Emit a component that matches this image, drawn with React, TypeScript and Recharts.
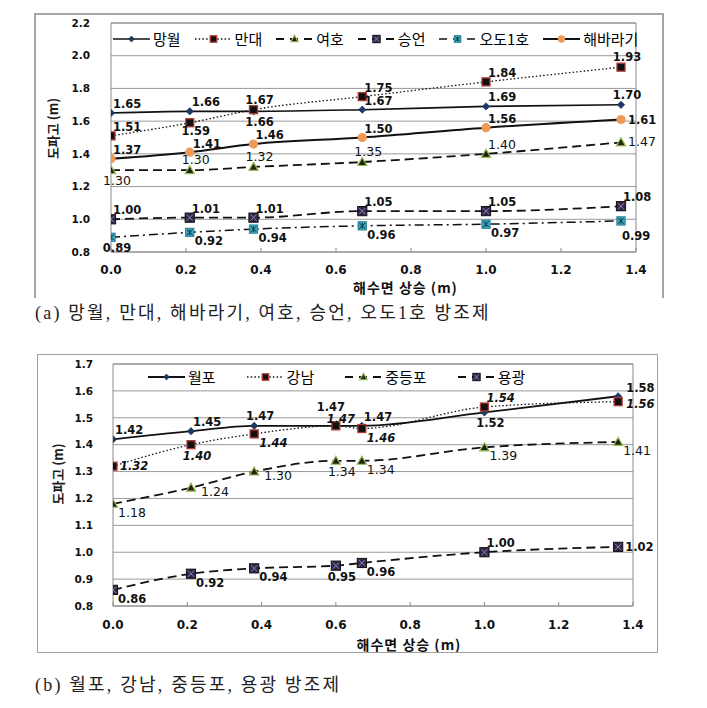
import React from 'react';
import { LineChart, Line, XAxis, YAxis, CartesianGrid, ReferenceArea, LabelList, Label } from 'recharts';

// ---------- data: panel (a) ----------
const xA = [0, 0.21, 0.38, 0.67, 1.0, 1.36];
const mangwol = [1.65, 1.66, 1.66, 1.67, 1.69, 1.7];
const mandae = [1.51, 1.59, 1.67, 1.75, 1.84, 1.93];
const yeoho = [1.3, 1.3, 1.32, 1.35, 1.4, 1.47];
const seungeon = [1.0, 1.01, 1.01, 1.05, 1.05, 1.08];
const odo1 = [0.89, 0.92, 0.94, 0.96, 0.97, 0.99];
const haebaragi = [1.37, 1.41, 1.46, 1.5, 1.56, 1.61];

// ---------- data: panel (b) ----------
const xB = [0, 0.21, 0.38, 0.6, 0.67, 1.0, 1.36];
const wolpo = [1.42, 1.45, 1.47, 1.47, 1.47, 1.52, 1.58];
const gangnam = [1.32, 1.4, 1.44, 1.47, 1.46, 1.54, 1.56];
const jungdeungpo = [1.18, 1.24, 1.3, 1.34, 1.34, 1.39, 1.41];
const yonggwang = [0.86, 0.92, 0.94, 0.95, 0.96, 1.0, 1.02];

// ---------- ticks & texts ----------
const xTicks = [0, 0.2, 0.4, 0.6, 0.8, 1.0, 1.2, 1.4];
const yTicksA = [0.8, 1.0, 1.2, 1.4, 1.6, 1.8, 2.0, 2.2];
const yTicksB = [0.8, 0.9, 1.0, 1.1, 1.2, 1.3, 1.4, 1.5, 1.6, 1.7];
const xTitle = '해수면 상승 (m)';
const yTitle = '도파고 (m)';
const captionA = '(a) 망월, 만대, 해바라기, 여호, 승언, 오도1호 방조제';
const captionB = '(b) 월포, 강남, 중등포, 용광 방조제';

// ---------- label placement styles ----------
const PLACE: Record<string, { anchor: 'start' | 'middle' | 'end'; dx: number; dy: number }> = {
  tr: { anchor: 'start', dx: 2, dy: -5 },
  tr2: { anchor: 'start', dx: 3, dy: -4 },
  t: { anchor: 'middle', dx: 6, dy: -6 },
  t2: { anchor: 'middle', dx: 5, dy: -3 },
  tt: { anchor: 'middle', dx: -5, dy: -15 },
  b: { anchor: 'middle', dx: 6, dy: 15 },
  bm: { anchor: 'middle', dx: 6, dy: 12 },
  br: { anchor: 'start', dx: 5, dy: 13 },
  bb: { anchor: 'start', dx: 1, dy: 19 },
  r: { anchor: 'start', dx: 7, dy: 4 },
  rl: { anchor: 'start', dx: 8, dy: 6 },
  ru: { anchor: 'start', dx: 8, dy: -4 },
  rb: { anchor: 'start', dx: 10, dy: 8 },
};

type Kind = 'diamond' | 'square' | 'triangle' | 'squareX' | 'squareStar' | 'circle';

interface Series {
  key: string;
  name: string;
  values: number[];
  marker: Kind;
  dash?: string;
  legendDash?: string;
  width: number;
  font: 'bold' | 'regular' | 'italic';
  place: string[];
}

const seriesA: Series[] = [
  { key: 'mangwol', name: '망월', values: mangwol, marker: 'diamond', width: 1.6, font: 'bold', place: ['tr', 'tr', 'b', 'tr', 'tr', 't'] },
  { key: 'mandae', name: '만대', values: mandae, marker: 'square', dash: '1.5 2.2', width: 1.3, font: 'bold', place: ['tr', 'bm', 't', 'tr', 'tr', 't'] },
  { key: 'yeoho', name: '여호', values: yeoho, marker: 'triangle', dash: '9 5', legendDash: '8 6', width: 1.8, font: 'regular', place: ['b', 't', 't', 't', 'tr', 'r'] },
  { key: 'seungeon', name: '승언', values: seungeon, marker: 'squareX', dash: '9 5', legendDash: '8 6', width: 1.8, font: 'bold', place: ['tr', 'tr', 'tr', 'tr', 'tr', 'tr'] },
  { key: 'odo1', name: '오도1호', values: odo1, marker: 'squareStar', dash: '9 4 2 4', legendDash: '8 6', width: 1.5, font: 'bold', place: ['b', 'br', 'br', 'br', 'br', 'bb'] },
  { key: 'haebaragi', name: '해바라기', values: haebaragi, marker: 'circle', width: 2, font: 'bold', place: ['tr', 'tr2', 'tr', 'tr', 'tr', 'r'] },
];

const seriesB: Series[] = [
  { key: 'wolpo', name: '월포', values: wolpo, marker: 'diamond', width: 1.8, font: 'bold', place: ['tr', 'tr', 't', 'tt', 'tr', 'b', 'ru'] },
  { key: 'gangnam', name: '강남', values: gangnam, marker: 'square', dash: '1.5 2.2', width: 1.3, font: 'italic', place: ['r', 'b', 'br', 't2', 'br', 'tr', 'rl'] },
  { key: 'jungdeungpo', name: '중등포', values: jungdeungpo, marker: 'triangle', dash: '9 5', legendDash: '8 6', width: 1.8, font: 'regular', place: ['br', 'rb', 'rb', 'b', 'br', 'br', 'br'] },
  { key: 'yonggwang', name: '용광', values: yonggwang, marker: 'squareX', dash: '9 5', legendDash: '8 6', width: 1.8, font: 'bold', place: ['br', 'br', 'br', 'b', 'br', 'tr', 'r'] },
];

const buildRows = (xs: number[], series: Series[]) =>
  xs.map((x, i) => {
    const row: Record<string, number> = { x };
    series.forEach((s) => {
      row[s.key] = s.values[i];
    });
    return row;
  });

const dataA = buildRows(xA, seriesA);
const dataB = buildRows(xB, seriesB);

const LATIN = '"DejaVu Sans", Verdana, sans-serif';
const KR = '"Noto Sans CJK KR", "Noto Sans", sans-serif';

function Marker({ kind, cx, cy, k = 1 }: { kind: Kind; cx: number; cy: number; k?: number }) {
  if (cx == null || cy == null || isNaN(cx) || isNaN(cy)) return <g />;
  switch (kind) {
    case 'diamond': {
      const r = 3.6 * k;
      return (
        <polygon
          points={`${cx},${cy - r} ${cx + r},${cy} ${cx},${cy + r} ${cx - r},${cy}`}
          fill="#1F3864"
          stroke="#17375E"
          strokeWidth={0.8}
        />
      );
    }
    case 'square': {
      const h = 4 * k;
      return <rect x={cx - h} y={cy - h} width={2 * h} height={2 * h} fill="#111" stroke="#B23A36" strokeWidth={1.3} />;
    }
    case 'triangle': {
      const h = 4.6 * k;
      return (
        <polygon
          points={`${cx},${cy - h} ${cx + h},${cy + h * 0.75} ${cx - h},${cy + h * 0.75}`}
          fill="#1d2610"
          stroke="#9BBB59"
          strokeWidth={1.2}
        />
      );
    }
    case 'squareX': {
      const h = 4.6 * k;
      const g = 1.5 * k;
      return (
        <g>
          <rect x={cx - h} y={cy - h} width={2 * h} height={2 * h} fill="#32264A" stroke="#111" strokeWidth={1} />
          <path
            d={`M${cx - h + g},${cy - h + g}L${cx + h - g},${cy + h - g}M${cx + h - g},${cy - h + g}L${cx - h + g},${cy + h - g}`}
            stroke="#A48CC4"
            strokeWidth={0.9}
          />
        </g>
      );
    }
    case 'squareStar': {
      const h = 4.2 * k;
      const g = 1.4 * k;
      return (
        <g>
          <rect x={cx - h} y={cy - h} width={2 * h} height={2 * h} fill="#3AA3BC" stroke="#23788C" strokeWidth={0.8} />
          <path
            d={`M${cx},${cy - h + g}L${cx},${cy + h - g}M${cx - h + g},${cy - h + g}L${cx + h - g},${cy + h - g}M${cx + h - g},${cy - h + g}L${cx - h + g},${cy + h - g}`}
            stroke="#0F3A48"
            strokeWidth={1}
          />
        </g>
      );
    }
    case 'circle':
    default:
      return <circle cx={cx} cy={cy} r={4.6 * k} fill="#EE9A55" />;
  }
}

const fontFor = (f: Series['font']) => {
  if (f === 'regular') return { fontSize: 12.5, fontWeight: 400, fontStyle: 'normal' };
  if (f === 'italic') return { fontSize: 11.5, fontWeight: 700, fontStyle: 'italic' };
  return { fontSize: 11.5, fontWeight: 700, fontStyle: 'normal' };
};

const makeLabel = (s: Series) => (props: any) => {
  const x = props.x ?? props.viewBox?.x;
  const y = props.y ?? props.viewBox?.y;
  const idx = props.index ?? 0;
  if (x == null || y == null) return null;
  const p = PLACE[s.place[idx]] || PLACE.tr;
  const f = fontFor(s.font);
  const v = Number(props.value);
  return (
    <text
      x={x + p.dx}
      y={y + p.dy}
      textAnchor={p.anchor}
      fontFamily={LATIN}
      fontSize={f.fontSize}
      fontWeight={f.fontWeight}
      fontStyle={f.fontStyle}
      fill="#111"
    >
      {v.toFixed(2)}
    </text>
  );
};

function LegendRow({ items, left, top, gap }: { items: Series[]; left: number; top: number; gap: number }) {
  return (
    <div style={{ position: 'absolute', left, top, display: 'flex', alignItems: 'center', gap, whiteSpace: 'nowrap' }}>
      {items.map((s) => (
        <div key={s.key} style={{ display: 'flex', alignItems: 'center' }}>
          <svg width={37} height={12} style={{ display: 'block' }}>
            <line x1={0} y1={6} x2={37} y2={6} stroke="#111" strokeWidth={s.width} strokeDasharray={s.legendDash ?? s.dash} />
            <Marker kind={s.marker} cx={18.5} cy={6} k={0.8} />
          </svg>
          <span style={{ marginLeft: 3, fontFamily: KR, fontSize: 15, lineHeight: '18px', color: '#000' }}>{s.name}</span>
        </div>
      ))}
    </div>
  );
}

const yTitleContent = (dxBase: number, dyShift: number) => (props: any) => {
  const vb = props.viewBox || {};
  const cx = vb.x + dxBase;
  const cy = vb.y + vb.height / 2 + dyShift;
  return (
    <text
      x={cx}
      y={cy}
      transform={`rotate(-90, ${cx}, ${cy})`}
      textAnchor="middle"
      fontFamily={KR}
      fontSize={13}
      fontWeight={700}
      fill="#1a1a1a"
    >
      {yTitle}
    </text>
  );
};

const xTitleContent = (dxShift: number, baseFromTop: number) => (props: any) => {
  const vb = props.viewBox || {};
  const cx = vb.x + vb.width / 2 + dxShift;
  const by = vb.y + baseFromTop;
  return (
    <text
      x={cx}
      y={by}
      textAnchor="middle"
      fontFamily={KR}
      fontSize={14}
      fontWeight={700}
      letterSpacing={1}
      fill="#111"
    >
      {xTitle}
    </text>
  );
};

function Panel({
  data,
  series,
  yTicks,
  width,
  height,
  margin,
  xAxisHeight,
  xTickMargin,
  yTickMargin,
  xLabelDx,
  xLabelBase,
  yTitleDx,
  yTitleDy,
}: any) {
  const yMin = yTicks[0];
  const yMax = yTicks[yTicks.length - 1];
  return (
    <LineChart width={width} height={height} data={data} margin={margin}>
      <CartesianGrid vertical={false} stroke="#9A9A9A" strokeWidth={1} />
      <ReferenceArea x1={0} x2={1.4} y1={yMin} y2={yMax} fill="none" stroke="#8A8A8A" strokeWidth={1} ifOverflow="visible" />
      <XAxis
        dataKey="x"
        type="number"
        domain={[0, 1.4]}
        ticks={xTicks}
        interval={0}
        allowDataOverflow
        axisLine={false}
        tickLine={{ stroke: '#8A8A8A' }}
        tickSize={-4}
        tickMargin={xTickMargin}
        height={xAxisHeight}
        tickFormatter={(v: number) => v.toFixed(1)}
        tick={{ fontFamily: LATIN, fontSize: 12, fontWeight: 700, fill: '#111' }}
      >
        <Label content={xTitleContent(xLabelDx, xLabelBase)} />
      </XAxis>
      <YAxis
        type="number"
        domain={[yMin, yMax]}
        ticks={yTicks}
        interval={0}
        allowDataOverflow
        axisLine={false}
        tickLine={false}
        tickSize={0}
        tickMargin={yTickMargin}
        width={50}
        tickFormatter={(v: number) => v.toFixed(1)}
        tick={{ fontFamily: LATIN, fontSize: 10.5, fontWeight: 700, fill: '#111' }}
      >
        <Label content={yTitleContent(yTitleDx, yTitleDy)} />
      </YAxis>
      {series.map((s: Series) => (
        <Line
          key={s.key}
          dataKey={s.key}
          name={s.name}
          type="monotoneX"
          stroke="#111"
          strokeWidth={s.width}
          strokeDasharray={s.dash}
          isAnimationActive={false}
          activeDot={false}
          dot={(p: any) => <Marker key={`${s.key}-${p.index}`} kind={s.marker} cx={p.cx} cy={p.cy} />}
        >
          <LabelList dataKey={s.key} content={makeLabel(s)} />
        </Line>
      ))}
    </LineChart>
  );
}

const captionStyle: React.CSSProperties = {
  position: 'absolute',
  left: 35,
  fontFamily: '"Liberation Serif", "Noto Sans CJK KR", serif',
  fontSize: 18,
  lineHeight: '20px',
  letterSpacing: 2.2,
  color: '#222',
  whiteSpace: 'nowrap',
};

export default function App() {
  return (
    <div style={{ position: 'absolute', left: 0, top: 0, width: 707, height: 708, background: '#fff', overflow: 'hidden' }}>
      {/* Panel (a) */}
      <div style={{ position: 'absolute', left: 34, top: 13, width: 630, height: 300 }}>
        <Panel
          data={dataA}
          series={seriesA}
          yTicks={yTicksA}
          width={630}
          height={300}
          margin={{ top: 10, right: 28, left: 27, bottom: 20 }}
          xAxisHeight={41}
          xTickMargin={17}
          yTickMargin={21}
          xLabelDx={32}
          xLabelBase={41}
          yTitleDx={-3}
          yTitleDy={-9}
        />
        <LegendRow items={seriesA} left={79} top={17} gap={14} />
      </div>
      <div
        style={{
          position: 'absolute',
          left: 34,
          top: 13,
          width: 630,
          height: 285,
          boxSizing: 'border-box',
          borderTop: '2px solid #A6A6A6',
          borderLeft: '2px solid #A6A6A6',
          borderRight: '2px solid #A6A6A6',
          pointerEvents: 'none',
        }}
      />
      <div style={{ ...captionStyle, top: 303 }}>{captionA}</div>

      {/* Panel (b) */}
      <div style={{ position: 'absolute', left: 37, top: 354, width: 621, height: 315 }}>
        <Panel
          data={dataB}
          series={seriesB}
          yTicks={yTicksB}
          width={621}
          height={315}
          margin={{ top: 10, right: 25, left: 26, bottom: 18 }}
          xAxisHeight={45}
          xTickMargin={18}
          yTickMargin={20}
          xLabelDx={36}
          xLabelBase={44}
          yTitleDx={0}
          yTitleDy={-11}
        />
        <LegendRow items={seriesB} left={111} top={14} gap={31} />
      </div>
      <div
        style={{
          position: 'absolute',
          left: 37,
          top: 354,
          width: 621,
          height: 299,
          boxSizing: 'border-box',
          border: '1px solid #A0A0A0',
          pointerEvents: 'none',
        }}
      />
      <div style={{ ...captionStyle, top: 675 }}>{captionB}</div>
    </div>
  );
}
